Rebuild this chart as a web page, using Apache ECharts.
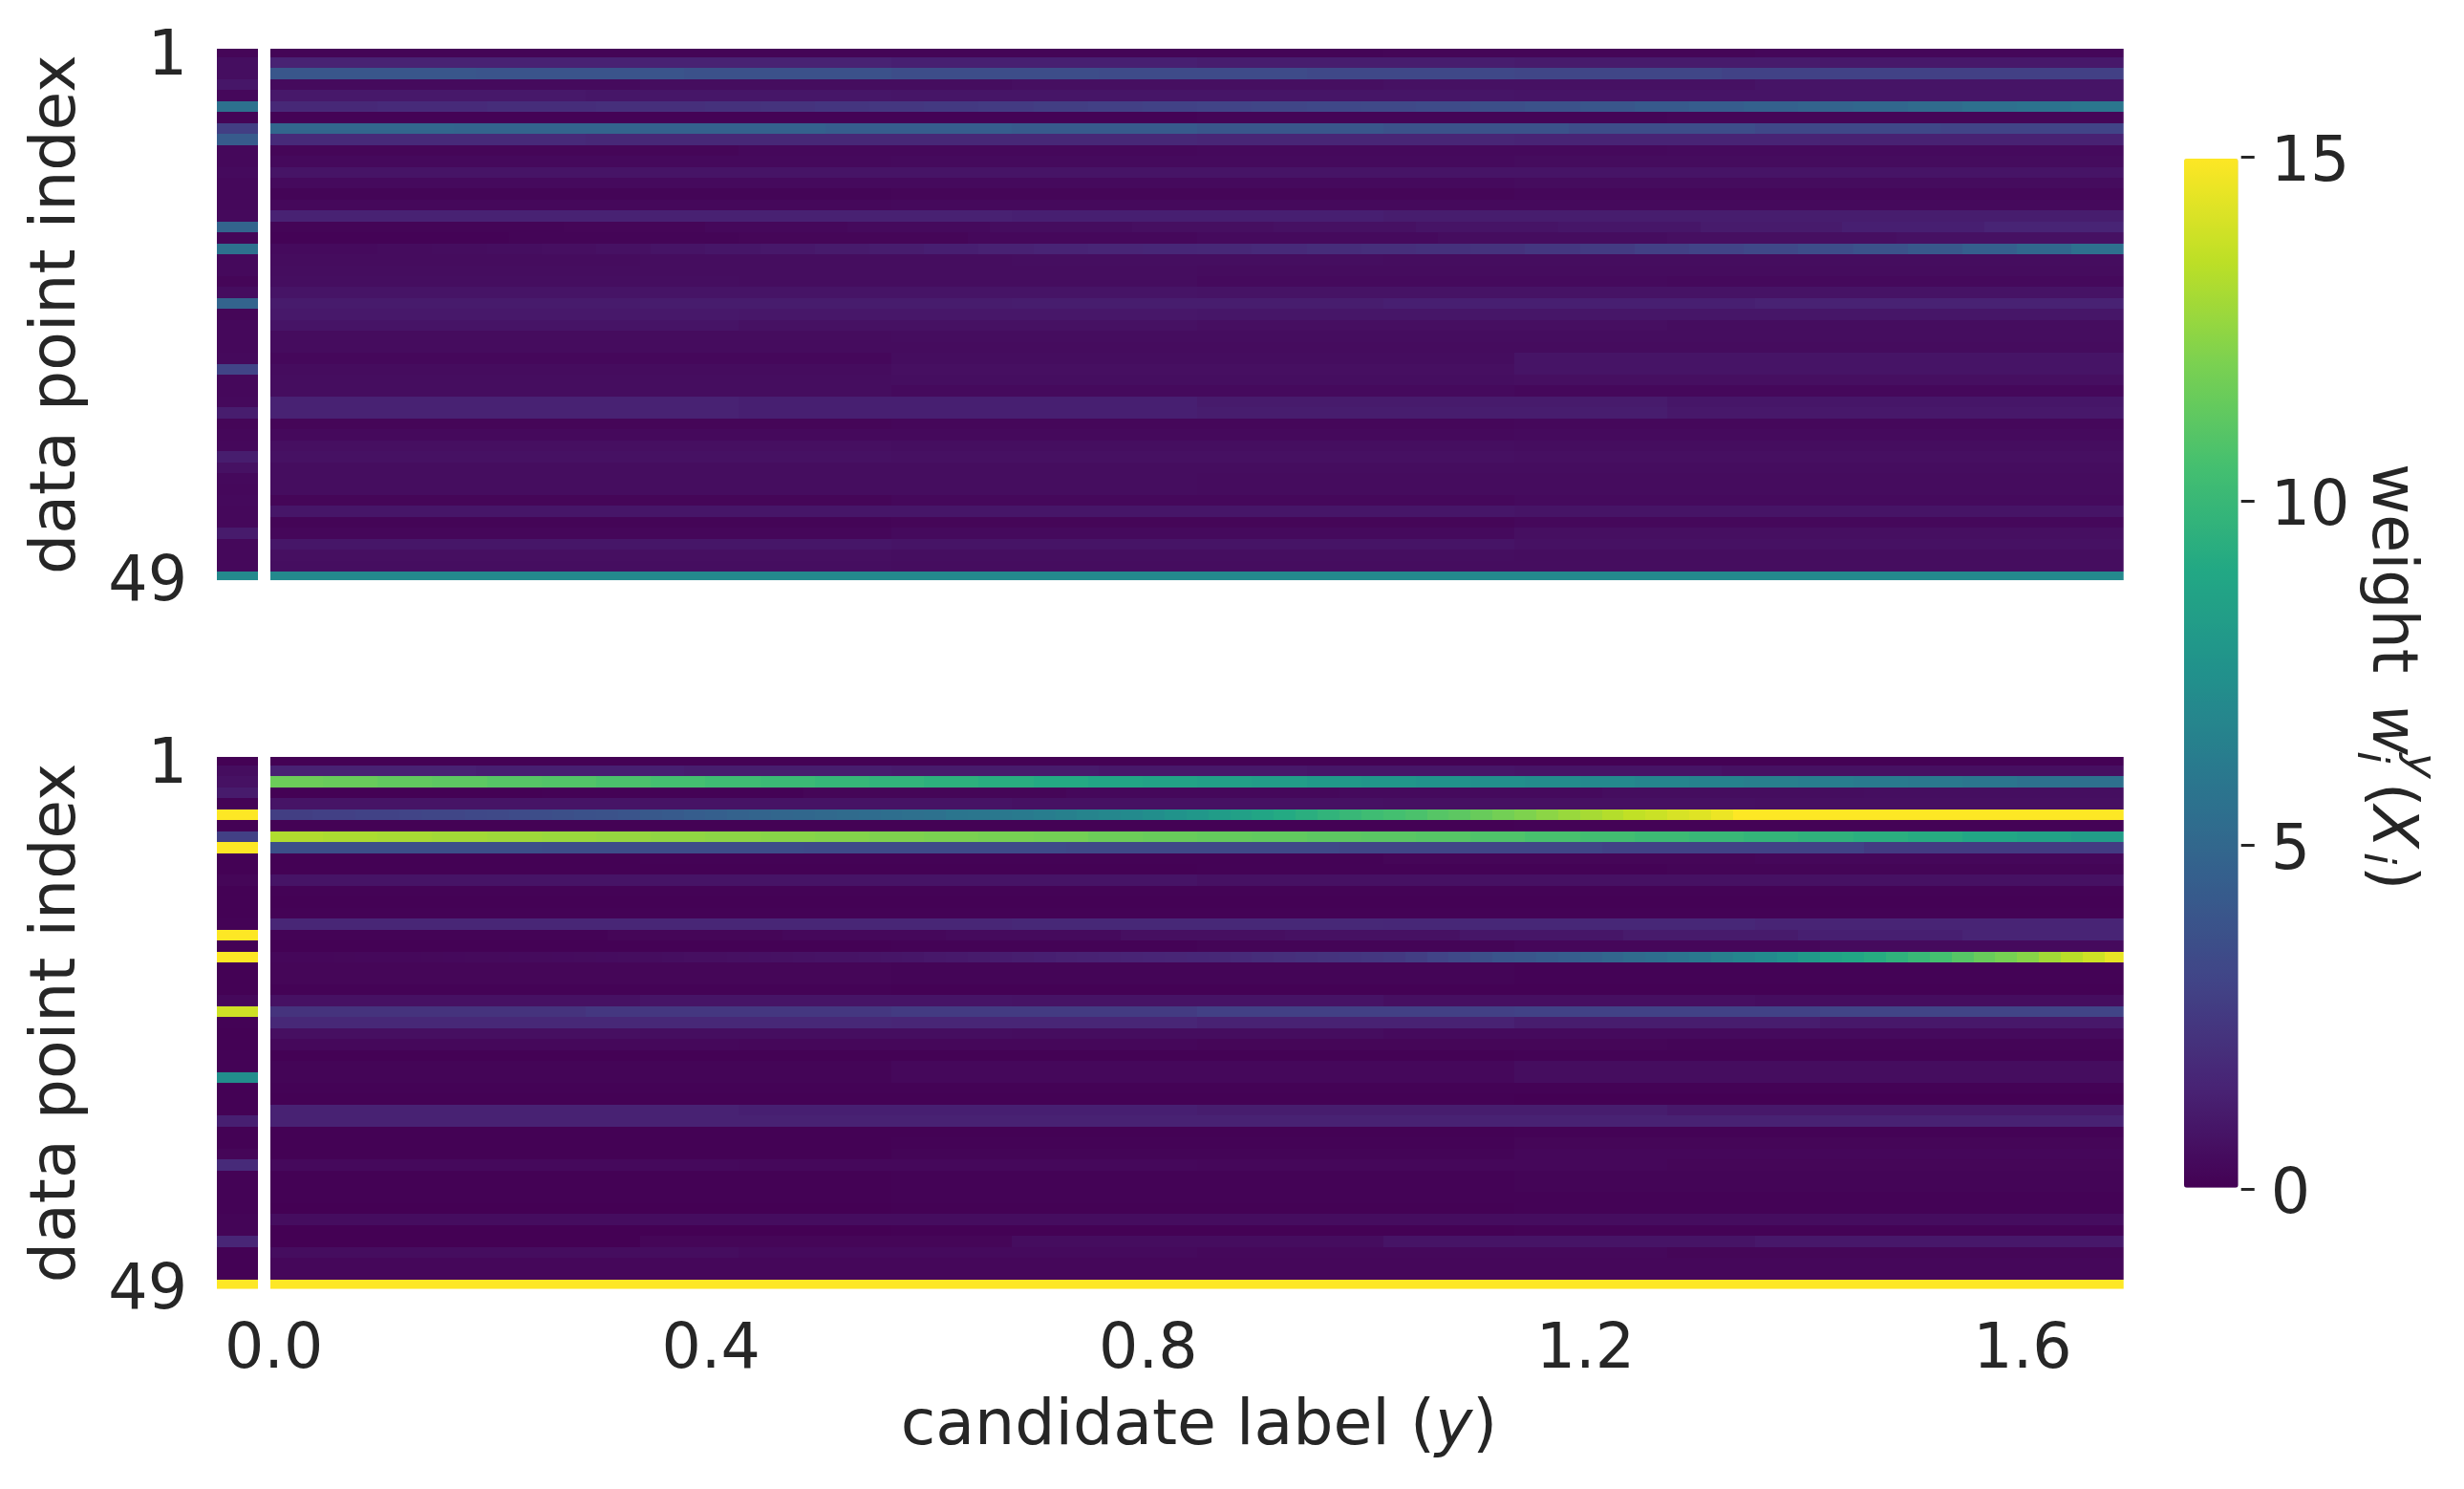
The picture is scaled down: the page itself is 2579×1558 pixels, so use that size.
<!DOCTYPE html>
<html>
<head>
<meta charset="utf-8">
<title>weights</title>
<style>
  html, body { margin: 0; padding: 0; background: #fff; }
  #main { width: 2579px; height: 1558px; }
</style>
<script src="https://cdn.jsdelivr.net/npm/echarts@6/dist/echarts.min.js"></script>
</head>
<body>
<div id="main"></div>
<script>
// each row is read left to right, a row list covers the 170 columns in equal steps
const topStrip = [
  0.2, 0.55, 0.55, 0.9, 0.3, 5.6, 0.15, 2.7, 4.3, 0.3, 0.3, 0.4, 0.3, 0.3, 0.3, 0.35, 4.8,
  0.2, 5.6, 0.35, 0.35, 0.2, 0.5, 4.8, 0.2, 0.3, 0.3, 0.3, 0.35, 3.0, 0.3, 0.3, 0.35,
  1.2, 0.2, 0.25, 0.3, 1.2, 0.7, 0.35, 0.3, 0.35, 0.3, 0.3, 1.1, 0.3, 0.3, 0.3, 7.0
];
const bottomStrip = [
  0.05, 0.5, 0.7, 1.1, 0.1, 15, 0.03, 2.8, 15, 0.05, 0.05, 0.2, 0.05, 0.05, 0.05, 0.1, 15,
  0.03, 15, 0.05, 0.05, 0.03, 0.3, 13.9, 0.1, 0.05, 0.05, 0.1, 0.1, 7.3, 0.05, 0.05, 0.05,
  1.3, 0.05, 0.05, 0.2, 1.8, 0.1, 0.1, 0.1, 0.1, 0.15, 0.15, 1.6, 0.05, 0.05, 0.05, 15
];
const topRows = [
  [0.15, 0.15, 0.15, 0.2, 0.25],
  [1.4, 1.4, 1.3, 1.2, 1.1, 1.0],
  [4.0, 3.9, 3.7, 3.5, 3.4, 3.2, 3.1, 2.9, 2.8],
  [0.4, 0.5, 0.6, 0.7, 0.8],
  [1.0, 0.9, 0.85, 0.85, 0.8, 0.85],
  [1.7, 1.7, 1.8, 1.8, 1.9, 1.9, 2.0, 2.0, 2.1, 2.2, 2.3, 2.4, 2.5, 2.6, 2.7, 2.8, 2.9,
    3.0, 3.1, 3.2, 3.3, 3.4, 3.6, 3.8, 4.0, 4.2, 4.4, 4.6, 4.8, 5.0, 5.2, 5.5, 5.7, 5.9],
  [0.1, 0.1, 0.15, 0.2],
  [4.9, 4.8, 4.6, 4.4, 4.2, 4.0, 3.8, 3.5, 3.2, 3.0],
  [1.8, 1.7, 1.7, 1.6, 1.5, 1.4],
  [0.2, 0.3, 0.35, 0.4],
  [0.35, 0.4, 0.45],
  [0.8, 0.8, 0.8],
  [0.4, 0.4, 0.45],
  [0.15, 0.2, 0.25],
  [0.3, 0.35, 0.35],
  [1.4, 1.35, 1.3, 1.2, 1.2],
  [0.15, 0.15, 0.2, 0.3, 0.4, 0.5, 0.6, 0.7, 0.8, 0.9, 1.1, 1.3, 1.5],
  [0.1, 0.15, 0.2, 0.3, 0.4, 0.5, 0.6, 0.7],
  [0.4, 0.4, 0.45, 0.5, 0.55, 0.6, 0.7, 0.8, 0.9, 1.0, 1.1, 1.2, 1.3, 1.4, 1.5, 1.6, 1.65,
    1.7, 1.8, 1.9, 2.0, 2.1, 2.2, 2.4, 2.6, 2.8, 3.0, 3.2, 3.5, 3.8, 4.1, 4.5, 5.0, 5.5],
  [0.45, 0.5, 0.55, 0.5, 0.5],
  [0.5, 0.5, 0.45, 0.45],
  [0.55, 0.5, 0.4, 0.35],
  [0.8, 0.8, 0.75, 0.75],
  [1.1, 1.15, 1.2, 1.3, 1.4],
  [1.0, 0.95, 0.9, 0.9],
  [0.8, 0.7, 0.6, 0.5],
  [0.45, 0.5, 0.5],
  [0.45, 0.45, 0.45],
  [0.3, 0.5, 0.8],
  [0.45, 0.6, 0.8],
  [0.5, 0.55, 0.6],
  [0.5, 0.4, 0.3],
  [1.4, 1.3, 1.1, 0.9],
  [1.4, 1.3, 1.2, 1.0],
  [0.2, 0.25, 0.3],
  [0.35, 0.35, 0.4],
  [0.6, 0.55, 0.5],
  [0.7, 0.65, 0.6],
  [0.5, 0.5],
  [0.5, 0.45],
  [0.5, 0.45],
  [0.2, 0.3, 0.4],
  [0.9, 0.9, 0.8],
  [0.15, 0.2, 0.3],
  [0.25, 0.4, 0.6],
  [0.9, 0.8, 0.7],
  [0.6, 0.55, 0.5],
  [0.55, 0.5, 0.5],
  [7.0, 7.0]
];
const bottomRows = [
  [0.05, 0.05],
  [1.4, 1.3, 1.2, 1.1, 1.0, 0.9, 0.8, 0.7, 0.6],
  [11.6, 11.5, 11.3, 11.2, 11.0, 10.9, 10.7, 10.5, 10.3, 10.1, 9.9, 9.7, 9.5, 9.3, 9.1, 8.9, 8.7,
    8.5, 8.3, 8.0, 7.8, 7.6, 7.4, 7.2, 7.0, 6.8, 6.6, 6.4, 6.3, 6.1, 6.0, 5.8, 5.6, 5.5],
  [0.05, 0.1, 0.2, 0.3, 0.4, 0.5, 0.55],
  [0.8, 0.75, 0.7, 0.65, 0.6],
  [2.7, 2.7, 2.8, 2.8, 2.9, 2.9, 3.0, 3.1, 3.1, 3.2, 3.3,
    3.4, 3.5, 3.6, 3.7, 3.8, 3.9, 4.1, 4.2, 4.4, 4.5, 4.7,
    4.8, 4.9, 5.0, 5.1, 5.2, 5.3, 5.4, 5.5, 5.6, 5.8, 5.9,
    6.0, 6.1, 6.3, 6.5, 6.7, 6.9, 7.1, 7.3, 7.6, 7.9, 8.2,
    8.5, 8.8, 9.1, 9.4, 9.7, 10.0, 10.3, 10.5, 10.7, 11.0, 11.2,
    11.5, 11.8, 12.1, 12.4, 12.7, 13.0, 13.3, 13.6, 13.8, 14.1, 14.3,
    14.6, 15, 15, 15, 15, 15, 15, 15, 15, 15, 15, 15, 15, 15, 15, 15, 15, 15, 15],
  [0.05, 0.05, 0.1],
  [13.2, 13.1, 13.0, 12.9, 12.8, 12.7, 12.6, 12.5, 12.4, 12.3, 12.2, 12.1, 12.0, 11.9, 11.8, 11.6, 11.5,
    11.4, 11.3, 11.2, 11.1, 11.0, 10.8, 10.6, 10.4, 10.2, 10.0, 9.8, 9.6, 9.4, 9.2, 8.9, 8.6, 8.3],
  [3.6, 3.5, 3.4, 3.3, 3.1, 2.9, 2.6],
  [0.05, 0.1, 0.1, 0.2, 0.25],
  [0.05, 0.05, 0.1, 0.15],
  [0.8, 0.8, 0.7, 0.7],
  [0.1, 0.1, 0.1],
  [0.05, 0.05, 0.05],
  [0.08, 0.08],
  [1.6, 1.6, 1.7, 1.65, 1.5],
  [0.1, 0.1, 0.2, 0.3, 0.4, 0.6, 0.7, 0.9, 1.1, 1.3, 1.5],
  [0.05, 0.05, 0.1, 0.15, 0.25, 0.4],
  [0.25, 0.25, 0.27, 0.28, 0.3, 0.3, 0.32, 0.34, 0.35, 0.37, 0.38, 0.4, 0.42, 0.44, 0.46, 0.48, 0.5,
    0.52, 0.55, 0.58, 0.6, 0.63, 0.66, 0.69, 0.72, 0.75, 0.78, 0.8,
    0.86, 0.92, 0.98, 1.04, 1.1, 1.16, 1.23, 1.3,
    1.35, 1.4, 1.45, 1.5, 1.55, 1.6, 1.65, 1.7,
    1.8, 1.9, 2.0, 2.1, 2.2, 2.3, 2.4, 2.5,
    2.7, 3.0, 3.3, 3.6, 3.9,
    4.0, 4.2, 4.4, 4.6, 4.9, 5.2,
    5.4, 5.7, 6.0, 6.4, 6.8,
    7.1, 7.5, 8.0, 8.6,
    8.9, 9.2, 9.6,
    10.0, 10.5, 11.0,
    11.5, 11.9, 12.3,
    12.9, 13.4, 13.9, 14.5],
  [0.2, 0.15, 0.1],
  [0.2, 0.15, 0.1],
  [0.1, 0.05, 0.05],
  [0.7, 0.8, 0.75, 0.6, 0.5],
  [2.2, 2.4, 2.6, 2.8, 2.9, 3.0],
  [1.7, 1.7, 1.6, 1.4, 1.2, 1.0],
  [0.6, 0.55, 0.5, 0.4, 0.4],
  [0.3, 0.25, 0.2, 0.15],
  [0.05, 0.05, 0.1],
  [0.15, 0.3, 0.5],
  [0.15, 0.3, 0.5],
  [0.08, 0.1, 0.1],
  [0.05, 0.03, 0.0],
  [1.4, 1.3, 1.2, 1.0],
  [1.4, 1.4, 1.4],
  [0.03, 0.05, 0.1],
  [0.05, 0.1, 0.2],
  [0.05, 0.15, 0.25],
  [0.35, 0.3, 0.25, 0.2],
  [0.05, 0.1, 0.15],
  [0.05, 0.1, 0.15],
  [0.05, 0.1, 0.1],
  [0.0, 0.05, 0.1],
  [0.5, 0.5, 0.5],
  [0.0, 0.05, 0.1],
  [0.0, 0.2, 0.5, 0.8, 1.0],
  [0.5, 0.4, 0.3, 0.2],
  [0.25, 0.25, 0.25],
  [0.25, 0.25, 0.25],
  [15, 15]
];
const xTicks = [0, 0.4, 0.8, 1.2, 1.6];
const yTicks = [1, 49];
const colorTicks = [0, 5, 10, 15];
const viridis = ['#440154', '#482475', '#414487', '#355f8d', '#2a788e', '#21918c', '#22a884', '#44bf70', '#7ad151', '#bddf26', '#fde725'];

const textColor = '#262626';
const fontFamily = '"DejaVu Sans"';
const columnCount = 170;
const columnStep = 0.01;
// the single wide column left of the gap, in x axis units
const stripLeft = -0.0521;
const stripRight = -0.0145;
// the first column is cut short on its left side
const mainLeft = -0.0029;

function mainCells(rows) {
  const cells = [];
  rows.forEach(function (row, r) {
    for (let c = 0; c < columnCount; c++) {
      cells.push([c * columnStep, r + 1, row[Math.floor(c * row.length / columnCount)]]);
    }
  });
  return cells;
}

function stripCells(values) {
  return values.map(function (v, r) {
    return [(stripLeft + stripRight) / 2, r + 1, v];
  });
}

function cellRenderer(halfWidth, minX) {
  return function (params, api) {
    const x = api.value(0);
    const y = api.value(1);
    const p0 = api.coord([Math.max(x - halfWidth, minX), y - 0.5]);
    const p1 = api.coord([x + halfWidth, y + 0.5]);
    const x0 = Math.round(p0[0]);
    const y0 = Math.round(p0[1]);
    const shape = echarts.graphic.clipRectByRect(
      { x: x0, y: y0, width: Math.round(p1[0]) - x0, height: Math.round(p1[1]) - y0 },
      params.coordSys
    );
    return shape && { type: 'rect', shape: shape, style: { fill: api.visual('color') } };
  };
}

function cellSeries(gridIndex, halfWidth, minX, data) {
  return {
    type: 'custom',
    coordinateSystem: 'cartesian2d',
    xAxisIndex: gridIndex,
    yAxisIndex: gridIndex,
    renderItem: cellRenderer(halfWidth, minX),
    encode: { x: 0, y: 1 },
    clip: true,
    animation: false,
    silent: true,
    progressive: 0,
    data: data
  };
}

function yAxis(gridIndex, min, max) {
  return {
    type: 'value',
    gridIndex: gridIndex,
    inverse: true,
    min: min,
    max: max,
    splitLine: { show: false },
    axisLine: { show: false, onZero: false },
    axisTick: { show: false },
    axisLabel: {
      customValues: yTicks,
      margin: 31,
      verticalAlign: 'top',
      lineHeight: 14,
      fontSize: 65,
      color: textColor,
      fontFamily: fontFamily
    },
    name: 'data point index',
    nameLocation: 'middle',
    nameGap: 133,
    nameRotate: 90,
    nameTextStyle: { fontSize: 66.5, color: textColor, fontFamily: fontFamily }
  };
}

function xAxis(gridIndex, showLabels) {
  return {
    type: 'value',
    gridIndex: gridIndex,
    min: stripLeft,
    max: 1.6924,
    splitLine: { show: false },
    axisLine: { show: false, onZero: false },
    axisTick: { show: false },
    axisLabel: {
      show: showLabels,
      customValues: xTicks,
      margin: 33,
      fontSize: 65,
      color: textColor,
      fontFamily: fontFamily,
      hideOverlap: false,
      formatter: function (v) { return v.toFixed(1); }
    }
  };
}

// rotated colorbar label, one piece per glyph group, baseline given as screen x
function labelPiece(text, y, baseline, size, italic) {
  return {
    type: 'text',
    x: baseline + 0.19 * size,
    y: y,
    rotation: -Math.PI / 2,
    silent: true,
    style: {
      text: text,
      fill: textColor,
      font: (italic ? 'italic ' : '') + size + 'px ' + fontFamily,
      align: 'left',
      verticalAlign: 'middle'
    }
  };
}

const chart = echarts.init(document.getElementById('main'), null, { renderer: 'canvas' });
chart.setOption({
  animation: false,
  backgroundColor: '#fff',
  title: {
    text: '{a|candidate label (}{b|y}{a|)}',
    left: 1255,
    top: 1460,
    textAlign: 'center',
    padding: 0,
    textStyle: {
      fontWeight: 'normal',
      rich: {
        a: { fontSize: 66.5, fontWeight: 'normal', color: textColor, fontFamily: fontFamily },
        b: { fontSize: 66.5, fontWeight: 'normal', color: textColor, fontFamily: fontFamily, fontStyle: 'italic' }
      }
    }
  },
  grid: [
    { left: 227, top: 51, width: 1995.7, height: 556.3, outerBoundsMode: 'none' },
    { left: 227, top: 792, width: 1995.7, height: 556.7, outerBoundsMode: 'none' },
    { left: 2286, top: 164.3, width: 59.7, height: 1079.7, outerBoundsMode: 'none' }
  ],
  xAxis: [
    xAxis(0, false),
    xAxis(1, true),
    { type: 'value', gridIndex: 2, show: false, min: 0, max: 1 }
  ],
  yAxis: [
    yAxis(0, 0.71, 49.31),
    yAxis(1, 0.712, 49.35),
    {
      type: 'value',
      gridIndex: 2,
      position: 'right',
      min: 0,
      max: 15,
      interval: 5,
      splitLine: { show: false },
      axisLine: { show: false, onZero: false },
      axisTick: { show: true, customValues: colorTicks, length: 14, lineStyle: { width: 3, color: textColor } },
      axisLabel: {
        customValues: colorTicks,
        margin: 31,
        verticalAlign: 'top',
        lineHeight: 16,
        fontSize: 65,
        color: textColor,
        fontFamily: fontFamily
      }
    }
  ],
  visualMap: {
    type: 'continuous',
    min: 0,
    max: 15,
    dimension: 2,
    seriesIndex: [0, 1, 2, 3],
    calculable: false,
    realtime: false,
    left: 2286,
    top: 166,
    padding: 0,
    itemWidth: 56.7,
    itemHeight: 1076.7,
    text: null,
    inRange: { color: viridis }
  },
  graphic: [
    labelPiece('weight', 485, 2489, 65, false),
    labelPiece('w', 737, 2489, 65, true),
    labelPiece('i', 786, 2471, 45, true),
    labelPiece('y', 788, 2523, 45, true),
    labelPiece('(', 819, 2489, 65, false),
    labelPiece('X', 843, 2489, 65, true),
    labelPiece('i', 892, 2478, 45, true),
    labelPiece(')', 906, 2489, 65, false)
  ],
  series: [
    cellSeries(0, columnStep / 2, mainLeft, mainCells(topRows)),
    cellSeries(0, (stripRight - stripLeft) / 2, stripLeft, stripCells(topStrip)),
    cellSeries(1, columnStep / 2, mainLeft, mainCells(bottomRows)),
    cellSeries(1, (stripRight - stripLeft) / 2, stripLeft, stripCells(bottomStrip))
  ]
});
window.addEventListener('resize', function () { chart.resize(); });
</script>
</body>
</html>
